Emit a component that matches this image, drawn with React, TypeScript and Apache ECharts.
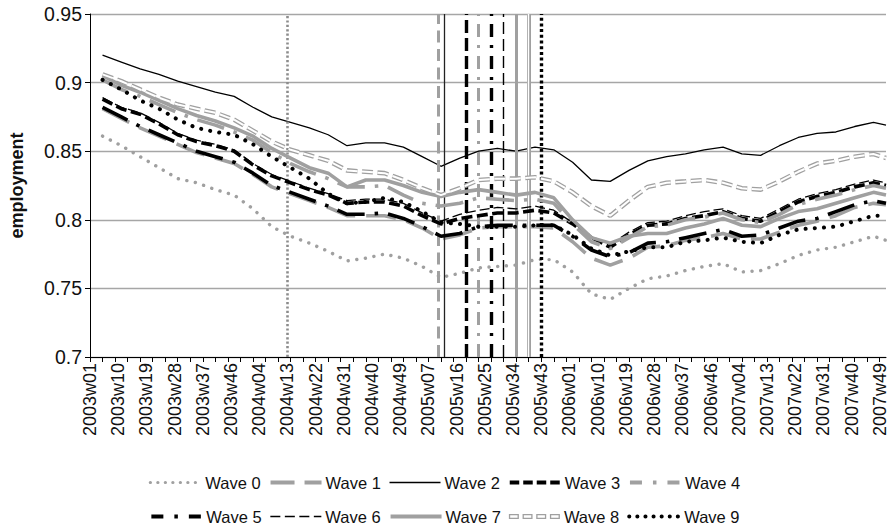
import { useEffect, useRef } from "react";
import * as echarts from "echarts";

// ---- categories: weekly labels, 51 weeks per year ----
const YEARS = [2003, 2004, 2005, 2006, 2007];
const WEEKS_PER_YEAR = 51;
const CATEGORIES: string[] = YEARS.flatMap((y) =>
  Array.from({ length: WEEKS_PER_YEAR }, (_, i) => `${y}w${String(i + 1).padStart(2, "0")}`)
);
const SAMPLE_WEEKS: string[] = [
  ...Array.from({ length: 42 }, (_, k) => CATEGORIES[4 + 6 * k]),
  CATEGORIES[254],
];

const WAVE_NAMES = ["Wave 0", "Wave 1", "Wave 2", "Wave 3", "Wave 4", "Wave 5", "Wave 6", "Wave 7", "Wave 8", "Wave 9"];
const WAVE_DATES = ["2004w13", "2005w10", "2005w12", "2005w19", "2005w23", "2005w27", "2005w31", "2005w35", "2005w39", "2005w43"];

const WAVE0 = [0.861,0.854,0.846,0.838,0.830,0.827,0.822,0.818,0.808,0.795,0.788,0.783,0.777,0.770,0.772,0.775,0.772,0.766,0.758,0.761,0.765,0.766,0.767,0.771,0.771,0.762,0.746,0.742,0.750,0.757,0.759,0.763,0.766,0.768,0.762,0.763,0.768,0.774,0.778,0.780,0.784,0.788,0.785];
const WAVE1 = [0.881,0.874,0.867,0.861,0.855,0.849,0.845,0.841,0.833,0.824,0.819,0.814,0.809,0.803,0.803,0.803,0.800,0.794,0.786,0.789,0.794,0.795,0.795,0.795,0.794,0.784,0.772,0.767,0.772,0.780,0.781,0.785,0.787,0.790,0.786,0.786,0.791,0.796,0.799,0.803,0.809,0.812,0.811];
const WAVE2 = [0.920,0.915,0.910,0.906,0.901,0.897,0.893,0.890,0.882,0.875,0.871,0.867,0.862,0.854,0.856,0.856,0.853,0.846,0.839,0.845,0.850,0.852,0.850,0.853,0.851,0.842,0.829,0.828,0.836,0.843,0.846,0.848,0.851,0.853,0.848,0.847,0.854,0.860,0.863,0.864,0.868,0.871,0.869];
const WAVE3 = [0.888,0.881,0.877,0.870,0.862,0.857,0.854,0.850,0.840,0.832,0.827,0.822,0.818,0.812,0.813,0.813,0.810,0.803,0.797,0.801,0.803,0.805,0.805,0.807,0.805,0.797,0.787,0.780,0.789,0.796,0.797,0.801,0.803,0.806,0.801,0.799,0.806,0.813,0.817,0.820,0.824,0.827,0.825];
const WAVE4 = [0.902,0.895,0.890,0.884,0.878,0.873,0.869,0.864,0.858,0.849,0.841,0.835,0.830,0.824,0.824,0.825,0.818,0.812,0.810,0.812,0.816,0.815,0.814,0.815,0.812,0.797,0.784,0.779,0.787,0.795,0.796,0.800,0.802,0.805,0.800,0.798,0.804,0.811,0.815,0.818,0.822,0.825,0.823];
const WAVE5 = [0.882,0.875,0.868,0.862,0.856,0.850,0.846,0.842,0.834,0.825,0.820,0.815,0.810,0.804,0.804,0.805,0.801,0.795,0.788,0.790,0.795,0.796,0.796,0.796,0.796,0.788,0.778,0.773,0.776,0.783,0.784,0.787,0.790,0.793,0.788,0.789,0.794,0.799,0.801,0.806,0.811,0.814,0.812];
const WAVE6 = [0.889,0.882,0.878,0.871,0.863,0.858,0.855,0.851,0.841,0.833,0.828,0.823,0.819,0.814,0.815,0.815,0.812,0.805,0.799,0.804,0.807,0.809,0.808,0.810,0.807,0.798,0.788,0.782,0.791,0.798,0.799,0.803,0.806,0.808,0.803,0.801,0.808,0.815,0.819,0.822,0.826,0.829,0.827];
const WAVE7 = [0.905,0.898,0.893,0.887,0.881,0.876,0.872,0.867,0.861,0.852,0.845,0.838,0.834,0.824,0.829,0.829,0.825,0.820,0.817,0.820,0.822,0.820,0.818,0.820,0.816,0.800,0.787,0.783,0.788,0.790,0.790,0.794,0.797,0.801,0.796,0.795,0.801,0.806,0.808,0.812,0.816,0.820,0.818];
const WAVE8 = [0.906,0.901,0.895,0.889,0.884,0.881,0.878,0.873,0.865,0.857,0.851,0.847,0.843,0.836,0.835,0.834,0.829,0.823,0.818,0.823,0.829,0.830,0.830,0.831,0.828,0.820,0.810,0.803,0.814,0.824,0.827,0.828,0.829,0.827,0.823,0.822,0.828,0.835,0.841,0.843,0.846,0.848,0.845];
const WAVE9 = [0.902,0.895,0.887,0.881,0.873,0.867,0.864,0.862,0.855,0.846,0.838,0.830,0.819,0.812,0.813,0.816,0.813,0.806,0.798,0.797,0.795,0.795,0.795,0.796,0.796,0.789,0.779,0.774,0.777,0.780,0.780,0.784,0.785,0.787,0.784,0.783,0.789,0.793,0.794,0.795,0.799,0.803,0.803];

const WAVE_VALUES = [WAVE0, WAVE1, WAVE2, WAVE3, WAVE4, WAVE5, WAVE6, WAVE7, WAVE8, WAVE9];

const Y_MIN = 0.7;
const Y_MAX = 0.95;
const Y_STEP = 0.05;

const GRAY = "#A0A0A0";
const BLACK = "#000000";
const FONT = "'Liberation Sans', Arial, sans-serif";

type Sty = { color: string; width: number; type: any; cap?: "butt" | "round" | "square" };

const LINE_STYLES: Sty[] = [
  { color: GRAY, width: 3.4, type: [0.1, 8.6], cap: "round" },
  { color: GRAY, width: 3.6, type: [30, 11], cap: "butt" },
  { color: BLACK, width: 1.3, type: "solid" },
  { color: BLACK, width: 3.6, type: [11, 4.5], cap: "butt" },
  { color: GRAY, width: 3.6, type: [28, 10, 3.5, 10], cap: "butt" },
  { color: BLACK, width: 3.6, type: [28, 10, 3.5, 10], cap: "butt" },
  { color: BLACK, width: 1.3, type: [10, 4], cap: "butt" },
  { color: GRAY, width: 3.6, type: "solid" },
  { color: GRAY, width: 4.6, type: [11, 4.5], cap: "butt" },
  { color: BLACK, width: 4, type: [0.1, 9.1], cap: "round" },
];

// legend samples (slightly shorter patterns so that they read as in the reference)
const LEGEND_STYLES: Sty[] = [
  { color: GRAY, width: 3.2, type: [0.1, 7.4], cap: "round" },
  { color: GRAY, width: 3.8, type: [24, 10], cap: "butt" },
  { color: BLACK, width: 1.3, type: "solid" },
  { color: BLACK, width: 3.8, type: [9.5, 4], cap: "butt" },
  { color: GRAY, width: 3.8, type: [12, 11, 3.5, 11], cap: "butt" },
  { color: BLACK, width: 3.8, type: [12, 11, 3.5, 11], cap: "butt" },
  { color: BLACK, width: 1.3, type: [10, 4.5], cap: "butt" },
  { color: GRAY, width: 3.8, type: "solid" },
  { color: GRAY, width: 4.6, type: [10, 4], cap: "butt" },
  { color: BLACK, width: 4, type: [0.1, 8], cap: "round" },
];

const VLINE_STYLES: Sty[] = [
  { color: "#8C8C8C", width: 2.6, type: [2.2, 2.2] },
  { color: GRAY, width: 3, type: [12, 6.5] },
  { color: "#222222", width: 1.3, type: "solid" },
  { color: BLACK, width: 3.4, type: [13, 5] },
  { color: GRAY, width: 3, type: [13, 8, 3, 8] },
  { color: BLACK, width: 3.4, type: [13, 8, 3, 8] },
  { color: BLACK, width: 1.4, type: [12, 5] },
  { color: GRAY, width: 3, type: "solid" },
  { color: GRAY, width: 4, type: "solid" },
  { color: BLACK, width: 3.4, type: [3, 2.7] },
];

const HOLLOW_ICON =
  "path://M0,0H10V5H0Z M1.3,1.3V3.7H8.7V1.3Z " +
  "M13.7,0H23.7V5H13.7Z M15,1.3V3.7H22.4V1.3Z " +
  "M27.4,0H37.4V5H27.4Z M28.7,1.3V3.7H36.1V1.3Z " +
  "M41.1,0H51.1V5H41.1Z M42.4,1.3V3.7H49.8V1.3Z";

function buildOption() {
  const series: any[] = [];
  WAVE_NAMES.forEach((name, i) => {
    const data = SAMPLE_WEEKS.map((w, j) => [w, WAVE_VALUES[i][j]]);
    series.push({
      type: "line",
      name,
      data,
      symbol: "none",
      showSymbol: false,
      silent: true,
      emphasis: { disabled: true },
      lineStyle: { ...LINE_STYLES[i] },
      z: 2 + i,
      markLine: {
        silent: true,
        symbol: ["none", "none"],
        label: { show: false },
        emphasis: { disabled: true },
        lineStyle: { ...VLINE_STYLES[i] },
        data: [{ xAxis: WAVE_DATES[i] }],
      },
    });
    if (i === 8) {
      series.push({
        type: "line",
        name: "Wave 8 inner",
        data,
        symbol: "none",
        showSymbol: false,
        silent: true,
        emphasis: { disabled: true },
        lineStyle: { color: "#FFFFFF", width: 2, type: [11, 4.5], cap: "butt" },
        z: 2 + i,
        markLine: {
          silent: true,
          symbol: ["none", "none"],
          label: { show: false },
          emphasis: { disabled: true },
          lineStyle: { color: "#FFFFFF", width: 1.4, type: "solid" },
          data: [{ xAxis: WAVE_DATES[i] }],
        },
      });
    }
  });

  const legendItem = (i: number) =>
    i === 8
      ? { name: WAVE_NAMES[i], icon: HOLLOW_ICON, itemStyle: { color: GRAY, opacity: 1, borderWidth: 0 } }
      : {
          name: WAVE_NAMES[i],
          lineStyle: { ...LEGEND_STYLES[i], opacity: 1 },
          itemStyle: { opacity: 0 },
        };

  const legendCommon = {
    left: "center",
    orient: "horizontal",
    itemWidth: 51,
    itemHeight: 12,
    itemGap: 8,
    selectedMode: false,
    textStyle: { fontSize: 16.5, fontFamily: FONT, color: "#111", padding: [0, 0, 0, -1] },
  };

  return {
    animation: false,
    grid: { left: 83, right: 3, top: 14, bottom: 171, containLabel: false },
    xAxis: {
      type: "category",
      data: CATEGORIES,
      boundaryGap: false,
      axisLine: { lineStyle: { color: BLACK, width: 1 } },
      axisTick: { show: true, interval: 3, length: 5, lineStyle: { color: BLACK } },
      axisLabel: { interval: 8, rotate: 90, fontSize: 18, fontFamily: FONT, color: "#111", margin: 6 },
      splitLine: { show: false },
    },
    yAxis: {
      type: "value",
      min: Y_MIN,
      max: Y_MAX,
      interval: Y_STEP,
      name: "employment",
      nameLocation: "middle",
      nameGap: 64,
      nameTextStyle: { fontSize: 18, fontWeight: "bold", fontFamily: FONT, color: "#111" },
      axisLine: { show: true, lineStyle: { color: BLACK, width: 1 } },
      axisTick: { show: true, length: 5, lineStyle: { color: BLACK } },
      axisLabel: {
        fontSize: 19.5,
        fontFamily: FONT,
        color: "#111",
        margin: 8,
        formatter: (v: number) => String(+v.toFixed(2)),
      },
      splitLine: { show: true, lineStyle: { color: "#A6A6A6", width: 1.3 } },
    },
    legend: [
      { ...legendCommon, top: 469, data: [0, 1, 2, 3, 4].map(legendItem) },
      { ...legendCommon, top: 503, data: [5, 6, 7, 8, 9].map(legendItem) },
    ],
    series,
  };
}

export default function App() {
  const ref = useRef<HTMLDivElement>(null);
  useEffect(() => {
    document.body.style.margin = "0";
    if (!ref.current) return;
    const chart = echarts.init(ref.current, undefined, { renderer: "svg" });
    chart.setOption(buildOption() as any);
    return () => chart.dispose();
  }, []);
  return <div ref={ref} style={{ width: 889, height: 528, background: "#fff" }} />;
}
